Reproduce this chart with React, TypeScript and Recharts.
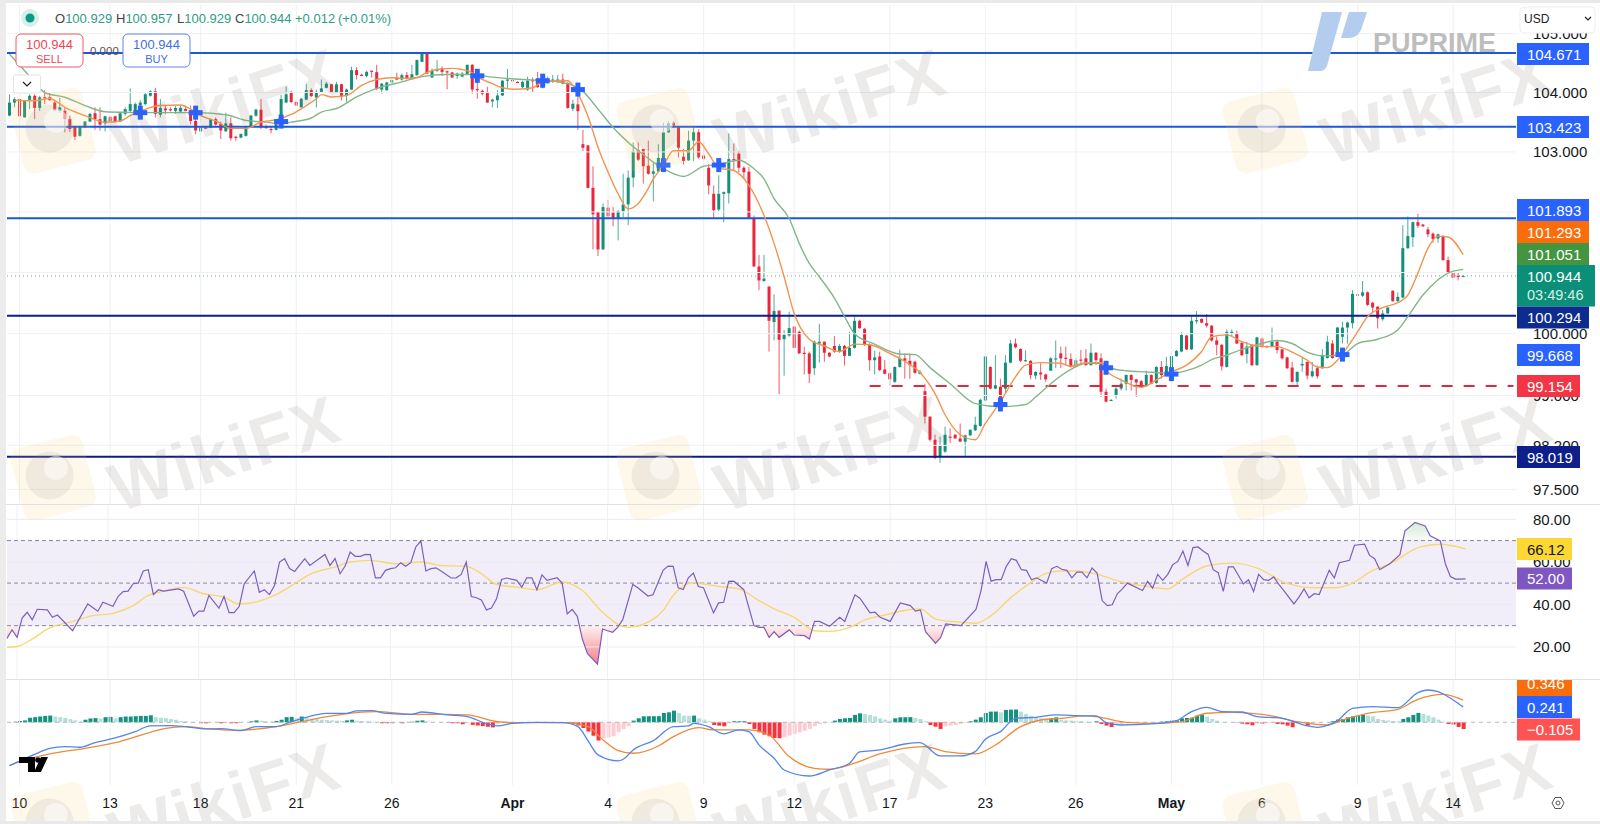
import { Area, Bar, Cell, ComposedChart, Line, ReferenceArea, ReferenceLine, XAxis, YAxis } from 'recharts';

const FONT = '"Liberation Sans", Arial, sans-serif';

// [open, high, low, close] per 4h candle
const candlesMarch = [
  [103.61,103.97,103.6,103.83],[103.83,103.92,103.75,103.89],[103.89,103.89,103.58,103.6],[103.58,103.87,103.58,103.86],[103.86,103.97,103.72,103.945],
  [103.945,103.97,103.55,103.74],[103.74,103.945,103.69,103.92],[103.92,104.04,103.805,103.905],[103.92,104,103.86,103.87],[103.83,103.86,103.69,103.7],
  [103.69,103.91,103.66,103.75],[103.69,103.75,103.33,103.55],[103.55,103.61,103.33,103.385],[103.42,103.44,103.2,103.255],[103.27,103.44,103.255,103.42],
  [103.41,103.52,103.4,103.51],[103.51,103.65,103.5,103.64],[103.65,103.75,103.37,103.55],[103.55,103.75,103.36,103.46],[103.48,103.61,103.345,103.6],
  [103.59,103.6,103.51,103.52],[103.6,103.61,103.5,103.51],[103.51,103.66,103.5,103.65],[103.64,103.75,103.61,103.72],[103.69,104.07,103.66,103.805],
  [103.69,103.83,103.64,103.805],[103.78,103.87,103.75,103.83],[103.805,104,103.78,103.97],[103.945,104.04,103.93,104.02],[104.02,104.08,103.58,103.64],
  [103.625,103.89,103.58,103.74],[103.73,103.78,103.64,103.7],[103.72,103.75,103.68,103.7],[103.69,103.77,103.64,103.74],[103.68,103.77,103.65,103.74],
  [103.72,103.76,103.68,103.69],[103.69,103.78,103.46,103.52],[103.52,103.72,103.3,103.36],[103.345,103.42,103.34,103.41],[103.41,103.42,103.39,103.395],
  [103.41,103.565,103.4,103.55],[103.55,103.58,103.44,103.46],[103.47,103.51,103.215,103.36],[103.345,103.66,103.34,103.48],[103.48,103.58,103.19,103.23],
  [103.255,103.27,103.19,103.24],[103.24,103.31,103.23,103.3],[103.27,103.44,103.255,103.42],[103.42,103.625,103.41,103.61],[103.61,103.73,103.59,103.71],
  [103.71,103.89,103.385,103.41],[103.42,103.46,103.385,103.4],[103.385,103.42,103.31,103.37],[103.37,103.55,103.36,103.52],[103.5,103.96,103.4,103.89],
  [103.83,104.1,103.82,103.97],[104.01,104.03,103.82,103.84],[103.84,103.86,103.77,103.78],[103.75,103.91,103.745,103.895],[103.88,104.15,103.87,104.04],
  [104.04,104.07,103.925,103.94],[103.915,104.05,103.75,104.01],[104.01,104.22,104,104.07],[104.08,104.18,104.07,104.15],[104.14,104.15,104,104.01],
  [104.01,104.18,104,104.14],[104.14,104.15,103.87,103.925],[103.95,104.07,103.84,104.05],[104.05,104.44,104.04,104.38],[104.38,104.43,104.22,104.295],
  [104.3,104.32,104.29,104.295],[104.28,104.37,104.255,104.35],[104.37,104.37,104.255,104.35],[104.345,104.47,104.04,104.06],[104.05,104.16,103.98,104.15],
  [104.04,104.18,104.03,104.17],[104.17,104.22,104.15,104.21],[104.25,104.335,104.21,104.22],[104.22,104.32,104.2,104.295],[104.295,104.35,104.22,104.24],
  [104.24,104.47,104.22,104.31],[104.295,104.56,104.285,104.55],[104.52,104.68,104.515,104.665],[104.655,104.665,104.32,104.32],[104.255,104.41,104.25,104.37],
  [104.37,104.55,104.35,104.39],[104.41,104.44,104.28,104.35],[104.36,104.37,104.055,104.34],[104.34,104.35,104.25,104.255],[104.28,104.34,104.23,104.32],
  [104.27,104.35,104.255,104.32],[104.31,104.47,104.295,104.47],[104.47,104.48,103.98,104.05],[104.06,104.24,103.895,104.04],[104.03,104.05,103.95,103.98],
  [104.01,104.095,103.83,103.83],[103.85,103.895,103.75,103.88],[103.87,104.04,103.74,103.95],[103.95,104.21,103.94,104.2],[104.2,104.4,104.08,104.22],
];
const candlesApril = [
  [104.21,104.27,104.15,104.2],[104.18,104.19,104.165,104.17],[104.09,104.2,104.07,104.18],[104.05,104.27,104.03,104.2],[104.21,104.255,104.01,104.2],
  [104.22,104.35,104.08,104.09],[104.09,104.32,104.07,104.28],[104.165,104.27,104.15,104.22],[104.2,104.295,104.16,104.22],[104.2,104.295,104.16,104.22],
  [104.22,104.32,104.14,104.15],[104.16,104.18,103.725,103.74],[103.725,103.88,103.685,103.81],[103.8,104.04,103.37,103.685],[103.13,103.37,103.01,103.07],
  [103.11,103.11,102.39,102.4],[102.4,102.76,101.38,101.96],[102,102,101.27,101.38],[101.38,102.14,101.37,102.08],[102.07,102.2,101.91,101.93],
  [101.99,102.08,101.76,101.9],[101.9,102.03,101.53,102.01],[102.01,102.635,101.915,102.125],[102.125,102.69,101.78,102.57],[102.57,103.16,102.41,103.006],
  [103.03,103.16,102.85,102.87],[103.05,103.05,102.47,102.76],[102.77,103.19,102.62,102.635],[102.635,102.83,102.175,102.675],[102.675,103.13,102.66,102.9],
  [102.885,103.49,102.83,103.33],[103.33,103.52,103.32,103.48],[103.49,103.52,103.41,103.44],[103.42,103.42,102.91,103.07],[102.92,103.05,102.79,102.85],
  [102.86,103.355,102.85,103.19],[103.19,103.42,102.85,103.33],[103.33,103.38,102.885,102.91],[102.94,103.16,102.86,102.885],[102.735,102.8,102.29,102.44],
  [102.3,102.44,101.9,102.03],[102.04,102.61,102.015,102.3],[102.3,102.34,101.83,102.33],[102.31,103.31,102.14,102.88],[102.88,103.14,102.69,102.865],
  [102.97,103.01,102.66,102.735],[102.735,102.76,102.55,102.66],[102.67,102.75,101.89,101.89],[101.89,101.94,101.09,101.1],[101.1,101.29,100.71,100.87],
  [100.86,101.29,100.85,100.9],[100.77,100.77,99.71,100.21],[100.19,100.64,99.89,100.37],[100.375,100.375,99.02,99.9],[99.91,100.06,99.32,99.98],
  [99.97,100.36,99.95,100.09],[100.115,100.125,99.76,99.77],[100.03,100.05,99.67,99.68],[99.69,99.79,99.34,99.67],[99.68,99.71,99.2,99.35],
  [99.44,99.89,99.33,99.87],[99.84,100.16,99.53,99.87],[99.87,99.87,99.545,99.69],[99.69,99.7,99.62,99.63],[99.8,99.96,99.69,99.71],
  [99.71,99.83,99.69,99.8],[99.8,99.82,99.48,99.64],[99.64,100.03,99.635,99.77],[99.77,100.28,99.76,100.21],[100.21,100.23,100.08,100.09],
  [100.08,100.09,99.8,99.82],[99.83,99.84,99.4,99.57],[99.57,99.72,99.34,99.615],[99.63,99.71,99.39,99.41],[99.42,99.57,99.34,99.35],
  [99.36,99.38,99.16,99.26],[99.22,99.47,99.2,99.46],[99.46,99.74,99.45,99.6],[99.6,99.68,99.27,99.56],[99.56,99.68,99.27,99.49],
  [99.545,99.56,99.35,99.365],[99.35,99.41,99.34,99.38],[99.07,99.19,98.55,98.66],[98.66,98.66,98.26,98.29],[98.29,98.37,97.98,98],
  [98.02,98.34,97.92,98.19],[98.1,98.5,98.08,98.37],[98.34,98.47,98.24,98.33],[98.37,98.38,98.31,98.31],[98.31,98.55,98.25,98.26],
  [98.26,98.37,98.02,98.36],[98.36,98.45,98.35,98.45],[98.44,98.66,98.43,98.53],[98.51,98.95,98.5,98.93],[98.92,99.64,98.9,99.63],
  [99.46,99.47,99.1,99.11],[99.11,99.65,99.1,99.165],[99.14,99.27,98.85,98.9],[99.11,99.65,99.03,99.53],[99.53,99.9,99.52,99.84],
  [99.84,99.92,99.76,99.78],[99.75,99.76,99.54,99.56],[99.55,99.73,99.55,99.57],[99.56,99.57,99.26,99.33],[99.32,99.39,99.26,99.38],
];
const candlesMay = [
  [99.37,99.52,99.25,99.34],[99.34,99.35,99.22,99.26],[99.4,99.62,99.395,99.6],[99.585,99.89,99.44,99.6],[99.68,99.79,99.44,99.6],
  [99.61,99.79,99.49,99.59],[99.59,99.68,99.45,99.46],[99.46,99.6,99.45,99.57],[99.58,99.735,99.49,99.57],[99.6,99.75,99.48,99.49],
  [99.49,99.84,99.48,99.69],[99.69,99.7,99.49,99.57],[99.6,99.68,98.975,99.06],[99.06,99.11,98.89,98.9],[98.92,98.94,98.91,98.93],
  [99,99.165,98.95,99.11],[99.11,99.27,99.08,99.19],[99.19,99.34,99.08,99.33],[99.33,99.34,99.08,99.25],[99.26,99.27,98.975,99.21],
  [99.23,99.25,99.15,99.165],[99.15,99.4,99.14,99.33],[99.33,99.34,99.18,99.19],[99.2,99.47,99.19,99.46],[99.46,99.555,99.27,99.33],
  [99.33,99.625,99.31,99.475],[99.46,99.71,99.355,99.635],[99.635,99.735,99.625,99.72],[99.71,100.02,99.7,99.98],[99.97,99.98,99.735,99.745],
  [99.745,100.305,99.735,100.21],[100.21,100.37,100.16,100.22],[100.24,100.25,100.17,100.18],[100.17,100.32,100.1,100.13],[100.13,100.14,99.87,99.89],
  [99.89,99.95,99.65,99.82],[99.82,99.83,99.4,99.47],[99.46,100.07,99.45,100.03],[100.015,100.07,99.96,100.03],[100,100.05,99.83,99.84],
  [99.85,99.87,99.64,99.65],[99.67,99.87,99.52,99.79],[99.82,99.83,99.47,99.49],[99.49,99.95,99.48,99.94],[99.92,99.94,99.77,99.79],
  [99.8,99.81,99.77,99.78],[99.8,100.1,99.8,99.87],[99.87,99.9,99.68,99.735],[99.745,99.76,99.58,99.6],[99.615,99.625,99.425,99.44],
  [99.45,99.545,99.21,99.22],[99.22,99.39,99.165,99.38],[99.485,99.62,99.385,99.51],[99.54,99.55,99.26,99.32],[99.31,99.54,99.29,99.39],
  [99.44,99.485,99.27,99.31],[99.44,99.75,99.43,99.65],[99.605,99.965,99.595,99.87],[99.84,99.895,99.595,99.605],[99.66,100.11,99.65,100.1],
  [99.95,100.195,99.84,100.1],[100.1,100.195,99.84,100.18],[100.17,100.71,100.085,100.65],[100.64,100.77,100.62,100.63],[100.62,100.86,100.6,100.675],
  [100.675,100.69,100.45,100.47],[100.505,100.52,100.33,100.425],[100.44,100.45,100.085,100.25],[100.235,100.385,100.21,100.33],[100.33,100.435,100.32,100.425],
  [100.7,100.71,100.52,100.53],[100.53,100.675,100.52,100.6],[100.59,101.78,100.58,101.4],[101.4,101.925,101.39,101.6],[101.58,101.84,101.42,101.83],
  [101.83,101.97,101.735,101.77],[101.79,101.8,101.76,101.76],[101.71,101.75,101.58,101.63],[101.64,101.66,101.49,101.55],[101.56,101.64,101.49,101.63],
  [101.6,101.615,101.19,101.205],[101.205,101.26,100.99,101],[101,101.01,100.91,100.915],[100.945,101.01,100.87,100.93],[100.929,100.957,100.929,100.944],
];

// moving averages, as [candle, value] knots
const fastMa = [[1,103.87],[5,103.86],[8,103.9],[11,103.75],[15,103.61],[19,103.5],[22,103.52],[24,103.61],[27,103.72],[30,103.78],[34,103.79],[36,103.72],[38,103.61],[41,103.52],[44,103.395],[47,103.395],[50,103.5],[53,103.54],[56,103.63],[58,103.725],[61,103.895],[62,103.965],[64,103.925],[67,103.95],[70,104.12],[73,104.22],[76,104.25],[78,104.24],[81,104.255],[83,104.34],[85,104.39],[88,104.41],[90,104.39],[92,104.335],[93,104.27],[96,104.15],[98,104.08],[101,104.055],[104,104.08],[106,104.18],[111,104.2],[112,104.12],[113,103.98],[115,103.6],[117,103.08],[119,102.66],[121,102.3],[123,102.05],[125,102.14],[127,102.39],[128,102.55],[130,102.77],[132,103.02],[135,103.02],[137,103.17],[139,102.97],[141,102.73],[144,102.69],[147,102.44],[150,101.94],[152,101.48],[154,100.93],[156,100.33],[159,99.91],[162,99.8],[165,99.71],[168,99.83],[171,99.82],[175,99.68],[178,99.55],[181,99.37],[184,99.03],[186,98.69],[189,98.37],[192,98.29],[194,98.55],[197,98.9],[200,99.3],[202,99.49],[205,99.53],[209,99.52],[211,99.47],[214,99.53],[217,99.53],[218,99.41],[221,99.25],[225,99.13],[228,99.25],[231,99.38],[234,99.49],[237,99.71],[239,99.95],[242,99.98],[245,99.87],[249,99.79],[252,99.79],[255,99.7],[258,99.57],[260,99.46],[262,99.45],[264,99.57],[266,99.785],[268,100.03],[270,100.28],[273,100.425],[276,100.505],[278,100.63],[280,100.99],[282,101.4],[284,101.6],[286,101.585],[289,101.293]];
const slowMa = [[0,104.65],[3,104.37],[5,104.17],[7,104],[11,103.92],[15,103.78],[19,103.675],[24,103.665],[30,103.66],[37,103.66],[43,103.625],[47,103.53],[51,103.5],[54,103.47],[56,103.5],[60,103.57],[62,103.67],[65,103.73],[69,103.925],[73,104.07],[78,104.18],[82,104.27],[87,104.305],[92,104.305],[95,104.27],[102,104.22],[107,104.2],[111,104.15],[114,104.02],[117,103.72],[120,103.41],[123,103.16],[125,103.02],[128,102.83],[130,102.72],[134,102.59],[138,102.76],[141,102.79],[145,102.86],[148,102.72],[150,102.55],[152,102.22],[155,101.89],[157,101.48],[159,101.15],[161,100.93],[164,100.58],[166,100.28],[168,100],[172,99.83],[177,99.67],[180,99.66],[183,99.45],[187,99.19],[192,98.87],[197,98.82],[202,98.855],[204,98.975],[207,99.19],[211,99.42],[214,99.52],[217,99.52],[219,99.44],[222,99.4],[226,99.38],[228,99.37],[231,99.355],[234,99.4],[237,99.49],[239,99.58],[242,99.65],[245,99.745],[248,99.82],[252,99.89],[255,99.84],[258,99.7],[261,99.64],[265,99.66],[268,99.84],[272,99.91],[276,100.06],[278,100.28],[281,100.63],[284,100.88],[286,100.99],[289,101.051]];
const crossMarks = [[26,103.66],[37,103.66],[54,103.51],[93,104.283],[106,104.2],[113,104.05],[130,102.78],[141,102.78],[197,98.855],[218,99.447],[231,99.345],[265,99.66]];

const rsiValues = [[0,24],[1,28],[2,24.5],[3,33.6],[4,36.3],[5,32.8],[6,37.7],[8,37.4],[9,33.9],[10,35],[13,27.6],[16,40.2],[18,36.8],[19,41],[21,39.1],[22,43.7],[23,46],[24,46.2],[25,49.7],[26,50],[27,55.7],[28,56.3],[29,44.6],[30,46.9],[31,46.2],[34,47.3],[35,46.2],[37,34.4],[38,36.8],[39,36.8],[40,44.2],[42,38.2],[43,43.7],[44,36.1],[45,36.1],[46,39],[47,49.7],[49,55.7],[50,45.7],[51,46.9],[52,44.6],[53,48.9],[54,59.9],[55,61.5],[56,56.8],[57,55.5],[59,61.5],[60,58.3],[63,63.5],[64,58.3],[65,61.5],[66,54.4],[67,58],[68,64.6],[69,62.6],[70,62.6],[71,63.5],[72,63.4],[73,52.5],[74,52.5],[75,56],[76,56.8],[77,57.2],[78,59.6],[79,57.9],[80,59.6],[81,67],[82,69.8],[83,55.7],[84,56.8],[85,57.2],[86,55.7],[88,52.4],[89,52.5],[90,54.1],[91,59.9],[92,43.7],[93,43.1],[94,42.1],[95,37.4],[96,38.3],[97,42.6],[98,51.7],[99,52.4],[101,51.3],[102,48.1],[103,52.5],[104,52.5],[105,46.9],[106,53.9],[107,51.3],[109,52.5],[110,50],[111,35.5],[112,37.6],[113,34.4],[114,23.7],[115,16.9],[117,11.9],[118,28.4],[119,27.6],[120,26.9],[121,29.2],[122,32.8],[124,49.4],[125,47.8],[127,43.9],[128,44.5],[130,56],[131,58],[132,57.9],[133,47.8],[134,47],[135,52.5],[136,54.7],[137,48.4],[138,47.8],[140,36],[141,40.7],[142,41],[143,50.8],[144,50.9],[146,46.9],[148,30],[149,29.2],[150,29.2],[151,24.5],[152,27.2],[153,24.5],[155,28],[156,25.6],[158,25.3],[159,23.7],[160,32],[161,32],[163,29.7],[165,33.9],[166,32],[168,44.5],[169,42.9],[171,36],[172,36.3],[173,33.9],[175,32],[177,40.7],[179,39.4],[180,36.8],[181,37.4],[182,27.2],[184,21.7],[185,24.5],[186,30.8],[189,30],[192,37.6],[193,46.5],[194,60.2],[195,50.9],[196,51.6],[197,51.6],[198,57.9],[199,61.5],[200,60.7],[201,56.3],[202,56],[203,51.6],[204,52.5],[206,50],[207,56.8],[208,57.9],[209,56.5],[210,56],[211,52.5],[212,55.2],[213,55.2],[214,52.5],[215,57.1],[216,54.7],[217,41.8],[218,39.4],[219,39.8],[220,45],[221,47.3],[222,50],[225,46.5],[226,50.8],[227,47.6],[228,54.1],[229,51.3],[230,54.1],[231,58.7],[232,60.2],[233,65.1],[234,58.3],[235,66.7],[236,67],[237,65.1],[238,63.5],[239,56.3],[240,54.9],[241,46.1],[242,57.6],[243,57.6],[245,49.6],[246,51.6],[247,46.1],[248,54.1],[249,51.6],[250,51.3],[251,52.9],[252,49.4],[253,46.5],[255,40.2],[256,43.4],[257,47.3],[258,43.1],[259,45],[260,44.6],[262,56],[263,52.4],[264,59.6],[266,60.7],[267,67.8],[269,68.3],[270,63],[271,61.5],[272,56.3],[274,59.1],[276,63.4],[277,74.6],[279,78.5],[281,76.9],[282,72.2],[284,69.8],[285,59.1],[286,53.1],[287,51.9],[288,51.9],[289,52]];
const rsiMa = [[0,19.8],[2,20.2],[5,23.7],[8,28.4],[13,32],[17,34.7],[21,35.8],[25,39.4],[28,44.2],[31,46.2],[35,48],[39,45],[43,43.4],[46,40.2],[50,41.5],[53,44.2],[57,49.7],[60,54.1],[65,57.6],[68,59.9],[72,60.7],[77,59.1],[82,59.9],[86,58.3],[91,57.9],[94,54.4],[97,49.4],[101,48.1],[105,46.9],[110,50.5],[114,46.5],[118,36.3],[123,29.2],[127,31.6],[130,37.1],[132,44.2],[136,50.2],[141,48.4],[145,47.3],[149,41.8],[152,37.9],[156,33.9],[160,27.6],[163,27.3],[167,29.2],[170,32.7],[174,35],[179,37.6],[181,37.9],[184,33.1],[189,31.6],[192,31.1],[195,34.7],[199,43.4],[203,50.5],[206,54.7],[209,55.7],[212,55.7],[216,54.1],[221,50.5],[226,48.4],[230,47.3],[233,52],[238,58.3],[243,59.4],[248,56.8],[253,50.5],[259,47.8],[263,47.8],[267,50.5],[270,55.2],[274,59.1],[280,67],[284,68.3],[289,66.12]];

const macdValues = [[0,-0.677],[5,-0.5],[8,-0.406],[11,-0.38],[14,-0.39],[17,-0.318],[21,-0.245],[25,-0.146],[28,-0.057],[32,-0.052],[35,-0.068],[39,-0.104],[42,-0.099],[46,-0.13],[49,-0.068],[53,-0.068],[56,0.01],[59,0.078],[63,0.14],[67,0.14],[69,0.177],[72,0.182],[75,0.14],[80,0.125],[82,0.161],[87,0.115],[91,0.089],[95,-0.026],[97,-0.057],[100,-0.016],[105,0],[110,-0.005],[113,-0.068],[115,-0.286],[117,-0.51],[121,-0.604],[122,-0.578],[124,-0.432],[128,-0.286],[132,-0.068],[135,-0.057],[136,-0.016],[139,-0.068],[142,-0.182],[145,-0.12],[147,-0.146],[149,-0.354],[152,-0.563],[154,-0.745],[159,-0.839],[163,-0.745],[167,-0.64],[169,-0.464],[173,-0.432],[178,-0.339],[181,-0.318],[185,-0.526],[189,-0.526],[192,-0.458],[194,-0.266],[197,-0.146],[200,0.0625],[204,0.078],[208,0.115],[214,0.1],[216,0.1],[218,-0.005],[221,-0.042],[227,-0.026],[232,0.026],[235,0.167],[238,0.234],[241,0.167],[245,0.161],[248,0.089],[253,0.0625],[258,-0.057],[260,-0.078],[264,0.026],[267,0.219],[271,0.245],[276,0.229],[280,0.464],[282,0.505],[284,0.479],[287,0.349],[289,0.241]];
const macdSignal = [[0,-0.677],[2,-0.615],[8,-0.495],[15,-0.406],[21,-0.318],[28,-0.156],[31,-0.094],[35,-0.068],[39,-0.099],[45,-0.125],[53,-0.068],[58,0.01],[64,0.099],[69,0.151],[73,0.167],[80,0.125],[87,0.125],[91,0.115],[97,0.01],[100,-0.005],[110,-0.005],[115,-0.068],[118,-0.276],[121,-0.443],[124,-0.484],[129,-0.37],[132,-0.224],[137,-0.083],[140,-0.12],[144,-0.12],[147,-0.12],[151,-0.198],[155,-0.536],[160,-0.719],[163,-0.734],[168,-0.64],[173,-0.495],[182,-0.38],[186,-0.458],[192,-0.495],[196,-0.354],[201,-0.068],[205,0.036],[209,0.0625],[214,0.1],[216,0.089],[222,0],[228,-0.016],[233,0.01],[238,0.141],[243,0.156],[251,0.1],[256,0.01],[262,-0.042],[265,0.036],[270,0.141],[276,0.203],[280,0.359],[285,0.4375],[289,0.346]];
const macdHist = [
  0,.01,.02,.03,.07,.08,.09,.1,.105,.09,.08,.07,.05,.03,.01,.04,.06,.065,.06,.08,
  .085,.06,.08,.09,.09,.095,.1,.1,.11,.08,.07,.065,.05,.04,.02,.015,.005,0,-.015,-.015,
  -.005,0,-.015,-.005,-.015,-.015,-.005,0,.015,.03,.025,.015,.01,.02,.04,.08,.085,.07,.09,.065,
  .06,.05,.04,.035,.03,.025,.02,.03,.04,.025,.02,.015,.01,0,-.015,-.015,-.015,-.005,-.015,-.005,
  .01,.025,.03,.015,.005,0,0,-.005,-.015,-.015,-.03,-.015,-.04,-.05,-.06,-.07,-.08,-.025,-.01,-.005,
  0,.003,.003,.003,.003,.003,.003,.003,.003,.003,0,-.005,-.03,-.05,-.09,-.145,-.21,-.285,-.245,-.235,
  -.22,-.155,-.105,-.0625,.026,.0625,.094,.095,.095,.096,.146,.156,.182,.146,.104,.103,.105,.0625,.042,.016,
  -.042,-.052,-.0625,-.016,.016,.016,.017,-.026,-.104,-.156,-.193,-.219,-.245,-.25,-.234,-.208,-.182,-.156,-.13,-.104,
  -.0625,-.026,-.016,-.005,.026,.052,.0625,.068,.115,.14,.13,.115,.094,.0625,.042,.026,.0625,.078,.079,.08,
  .068,.052,.016,-.042,-.068,-.104,-.0625,-.052,-.042,-.026,-.01,.016,.042,.078,.146,.167,.168,.156,.193,.198,
  .199,.167,.13,.104,.078,.0625,.042,.0625,.078,.042,.031,.026,.021,.016,.01,.008,.016,-.026,-.052,-.073,
  -.042,-.031,-.016,-.01,-.005,0,0,0,.005,.01,.016,.026,.03,.0625,.068,.073,.104,.115,.089,.052,
  .026,.005,0,0,-.005,-.021,-.031,-.047,-.021,-.021,-.016,-.01,-.026,-.031,-.052,-.078,-.016,-.01,-.052,-.016,
  -.005,0,0,.016,.042,.052,.078,.094,.104,.115,.104,.094,.052,.036,.026,.021,.016,.052,.078,.115,
  .146,.13,.104,.078,.042,.01,-.026,-.036,-.073,-.105,
];

const timeTicks = [2, 20, 38, 57, 76, 100, 119, 138, 156, 175, 194, 212, 231, 249, 268, 287];
const timeLabels = ['10', '13', '18', '21', '26', 'Apr', '4', '9', '12', '17', '23', '26', 'May', '6', '9', '14'];
const priceTicks = [105, 104, 103, 102, 101, 100, 99, 98.2, 97.5];
const rsiTicks = [80, 60, 40, 20];
const blueLevels = [104.671, 103.423, 101.893];
const navyLevels = [100.294, 98.019];

const candles = [...candlesMarch, ...candlesApril, ...candlesMay];
const ROW_COUNT = 300;

const rows: any[] = Array.from({ length: ROW_COUNT }, (_, i) => {
  const c = candles[i];
  const hist = macdHist[i];
  return c
    ? { i, open: c[0], high: c[1], low: c[2], close: c[3], range: [c[2], c[1]], hist }
    : { i };
});
const put = (key: string, pairs: number[][]) => pairs.forEach(([i, v]) => { rows[i][key] = v; });
put('fast', fastMa);
put('slow', slowMa);
put('cross', crossMarks);
put('rsi', rsiValues);
put('rsiMa', rsiMa);
put('macd', macdValues);
put('signal', macdSignal);

const histColor = (i: number) => {
  const v = macdHist[i] ?? 0;
  const prev = macdHist[i - 1] ?? 0;
  if (v >= 0) return v >= prev ? '#12927f' : '#b5dfd9';
  return v <= prev ? '#f5343f' : '#fdcbd2';
};

// body is placed inside the high-low rect on the same log scale as the axis
const CandleShape = (props: any) => {
  const { x, y, width, height, payload } = props;
  if (!payload || payload.open == null || !isFinite(y)) return null;
  const { open, high, low, close } = payload;
  const span = Math.log(high) - Math.log(low) || 1;
  const at = (p: number) => y + (height * (Math.log(high) - Math.log(p))) / span;
  const color = close >= open ? '#14907a' : '#e9263b';
  const top = at(Math.max(open, close));
  const bottom = at(Math.min(open, close));
  const cx = x + width / 2;
  return (
    <g>
      <line x1={cx} x2={cx} y1={y} y2={y + height} stroke={color} strokeWidth={1} opacity={0.75} />
      <rect x={x} y={top} width={width} height={Math.max(bottom - top, 1.2)} fill={color} />
    </g>
  );
};

const CrossDot = (props: any) => {
  const { cx, cy, index } = props;
  if (cy == null || !isFinite(cy)) return <g key={index} />;
  return (
    <g key={index} fill="#2962ff">
      <rect x={cx - 7} y={cy - 2.5} width={14} height={5} />
      <rect x={cx - 2.5} y={cy - 7} width={5} height={14} />
    </g>
  );
};

const TimeTick = (props: any) => {
  const label = timeLabels[timeTicks.indexOf(props.payload.value)];
  const bold = label === 'Apr' || label === 'May';
  return (
    <text x={props.x} y={128} textAnchor="middle" fontSize={14} fontFamily={FONT} fontWeight={bold ? 700 : 400} fill="#131722">
      {label}
    </text>
  );
};

const gridLines = (color = '#eff0f3') =>
  timeTicks.map((t) => <ReferenceLine key={`v${t}`} x={t} stroke={color} strokeWidth={1} />);

const PriceChart = () => (
  <ComposedChart width={1600} height={505} data={rows} margin={{ top: 5, right: 0, bottom: 1, left: 7 }} barCategoryGap={1}>
    <XAxis dataKey="i" hide />
    <YAxis
      orientation="right"
      width={84}
      scale="log"
      domain={[97.268, 105.491]}
      ticks={priceTicks}
      interval={0}
      allowDataOverflow
      axisLine={false}
      tickLine={false}
      tickMargin={11}
      tickFormatter={(v: number) => v.toFixed(3)}
      tick={{ fontSize: 15, fontFamily: FONT, fill: '#131722' }}
    />
    {gridLines()}
    {priceTicks.map((p) => (
      <ReferenceLine key={p} y={p} stroke="#f0f1f4" strokeWidth={1} />
    ))}
    <ReferenceLine y={100.944} stroke="#6f9f96" strokeWidth={1} strokeDasharray="1 3" />
    {blueLevels.map((p) => (
      <ReferenceLine key={p} y={p} stroke="#1c57dc" strokeWidth={2} />
    ))}
    {navyLevels.map((p) => (
      <ReferenceLine key={p} y={p} stroke="#0c1c8c" strokeWidth={2} />
    ))}
    <ReferenceLine segment={[{ x: 171, y: 99.154 }, { x: 299, y: 99.154 }]} stroke="#e1293c" strokeWidth={2} strokeDasharray="11 11" />
    <Bar dataKey="range" barSize={3} shape={CandleShape} isAnimationActive={false} />
    <Line dataKey="slow" type="monotone" stroke="#84b68a" strokeWidth={1.4} dot={false} connectNulls isAnimationActive={false} />
    <Line dataKey="fast" type="monotone" stroke="#f29450" strokeWidth={1.4} dot={false} connectNulls isAnimationActive={false} />
    <Line dataKey="cross" stroke="none" dot={CrossDot} isAnimationActive={false} />
  </ComposedChart>
);

const RsiChart = () => (
  <ComposedChart width={1600} height={175} data={rows} margin={{ top: 0, right: 0, bottom: 1, left: 7 }}>
    <defs>
      <linearGradient id="rsiFill" gradientUnits="userSpaceOnUse" x1="0" x2="0" y1="14" y2="160">
        <stop offset="0" stopColor="#4caf50" stopOpacity={0.28} />
        <stop offset="0.148" stopColor="#4caf50" stopOpacity={0.04} />
        <stop offset="0.148" stopColor="#ffffff" stopOpacity={0} />
        <stop offset="0.726" stopColor="#ffffff" stopOpacity={0} />
        <stop offset="0.726" stopColor="#f23645" stopOpacity={0.06} />
        <stop offset="1" stopColor="#f23645" stopOpacity={0.65} />
      </linearGradient>
    </defs>
    <XAxis dataKey="i" hide />
    <YAxis
      orientation="right"
      width={84}
      domain={[4.92, 86.72]}
      ticks={rsiTicks}
      interval={0}
      allowDataOverflow
      axisLine={false}
      tickLine={false}
      tickMargin={11}
      tickFormatter={(v: number) => v.toFixed(2)}
      tick={{ fontSize: 15, fontFamily: FONT, fill: '#131722' }}
    />
    <ReferenceArea y1={30} y2={70} fill="#7e57c2" fillOpacity={0.1} stroke="none" />
    {gridLines()}
    {[80, 60, 40, 20].map((v) => (
      <ReferenceLine key={v} y={v} stroke="#eceaf2" strokeWidth={1} />
    ))}
    {[70, 50, 30].map((v) => (
      <ReferenceLine key={v} y={v} stroke="#8a8a96" strokeWidth={1} strokeDasharray="4 3" />
    ))}
    <Area dataKey="rsi" type="linear" baseValue={30} stroke="none" fill="url(#rsiFill)" fillOpacity={1} dot={false} connectNulls isAnimationActive={false} />
    <Line dataKey="rsiMa" type="monotone" stroke="#f6d872" strokeWidth={1.4} dot={false} connectNulls isAnimationActive={false} />
    <Line dataKey="rsi" type="linear" stroke="#7c5fbc" strokeWidth={1.2} dot={false} connectNulls isAnimationActive={false} />
  </ComposedChart>
);

const MacdChart = () => (
  <ComposedChart width={1600} height={144} data={rows} margin={{ top: 0, right: 84, bottom: 0, left: 7 }}>
    <XAxis
      dataKey="i"
      height={39}
      ticks={timeTicks}
      interval={0}
      axisLine={false}
      tickLine={false}
      tick={TimeTick}
    />
    <YAxis hide domain={[-0.98, 0.661]} allowDataOverflow />
    {gridLines()}
    <ReferenceLine y={0} stroke="#b5b5bb" strokeWidth={1} strokeDasharray="4 4" />
    <Bar dataKey="hist" barSize={4} isAnimationActive={false}>
      {rows.map((r) => (
        <Cell key={r.i} fill={histColor(r.i)} />
      ))}
    </Bar>
    <Line dataKey="signal" type="monotone" stroke="#ee8a3a" strokeWidth={1.3} dot={false} connectNulls isAnimationActive={false} />
    <Line dataKey="macd" type="monotone" stroke="#5585ea" strokeWidth={1.3} dot={false} connectNulls isAnimationActive={false} />
  </ComposedChart>
);

const Watermark = ({ dx, dy }: { dx: number; dy: number }) => (
  <g transform={`translate(${dx} ${dy})`}>
    <g transform="rotate(-14 52 130)">
      <rect x={16} y={94} width={74} height={74} rx={10} fill="#f6c667" fillOpacity={0.13} />
      <circle cx={50} cy={128} r={24} fill="#8c8379" fillOpacity={0.12} />
      <circle cx={58} cy={122} r={12} fill="#ffffff" fillOpacity={0.5} />
    </g>
    <text
      x={224}
      y={130}
      textAnchor="middle"
      fontFamily={FONT}
      fontWeight={700}
      fontSize={68}
      letterSpacing={2}
      fill="#6e645c"
      fillOpacity={0.13}
      transform="rotate(-18 224 105)"
    >
      WikiFX
    </text>
  </g>
);

const Badge = ({ y, w = 72, h = 22, fill, text, color = '#fff', clip = false }: any) => (
  <g>
    <rect x={1517} y={y} width={w} height={h} fill={fill} />
    <text x={1527} y={clip ? y + 9 : y + h / 2 + 5.5} fontSize={15} fontFamily={FONT} fill={color}>
      {text}
    </text>
  </g>
);

const Overlay = () => (
  <svg width={1600} height={824} style={{ position: 'absolute', left: 0, top: 0, pointerEvents: 'none' }}>
    {[0, 606, 1212].map((dx) => [0, 347, 694].map((dy) => <Watermark key={`${dx}-${dy}`} dx={dx} dy={dy} />))}

    <path d="M1322 12 L1342 12 L1327 66 Q1325 71 1320 71 L1308 71 Z" fill="#b4cdee" />
    <path d="M1349 12 L1367 12 L1361 30 Q1357 38 1349 38 L1341 38 Z" fill="#b4cdee" />
    <text x={1373} y={52} fontSize={27} fontWeight={700} fontFamily={FONT} fill="#bdbdbd">PUPRIME</text>

    {/* frame and pane dividers */}
    <rect x={0} y={0} width={1600} height={3} fill="#e9e9e9" />
    <rect x={0} y={0} width={6} height={824} fill="#ececec" />
    <rect x={0} y={821} width={1600} height={3} fill="#e9e9e9" />
    <rect x={6} y={504} width={1594} height={1} fill="#e0e0e3" />
    <rect x={6} y={679} width={1594} height={1} fill="#e0e0e3" />

    {/* legend */}
    <circle cx={30} cy={18} r={9} fill="#d5efea" />
    <circle cx={30} cy={18} r={4.5} fill="#0d9a84" />
    <text y={23} fontSize={13} fontFamily={FONT} fill="#2f9c88">
      <tspan x={55} fill="#444">O</tspan><tspan>100.929</tspan>
      <tspan x={116} fill="#444">H</tspan><tspan>100.957</tspan>
      <tspan x={177} fill="#444">L</tspan><tspan>100.929</tspan>
      <tspan x={235} fill="#444">C</tspan><tspan>100.944</tspan>
      <tspan x={295}>+0.012</tspan>
      <tspan x={338}>(+0.01%)</tspan>
    </text>

    {/* trade buttons */}
    <rect x={16} y={34} width={67} height={33} rx={5} fill="#fff" stroke="#ef5a68" />
    <text x={49.5} y={49} textAnchor="middle" fontSize={13} fontFamily={FONT} fill="#ef4656">100.944</text>
    <text x={49.5} y={63} textAnchor="middle" fontSize={11} fontFamily={FONT} fill="#ef4656">SELL</text>
    <text x={90} y={55} fontSize={11.5} fontFamily={FONT} fill="#555">0.000</text>
    <rect x={123} y={34} width={67} height={33} rx={5} fill="#fff" stroke="#5c85ea" />
    <text x={156.5} y={49} textAnchor="middle" fontSize={13} fontFamily={FONT} fill="#3f6fe8">100.944</text>
    <text x={156.5} y={63} textAnchor="middle" fontSize={11} fontFamily={FONT} fill="#3f6fe8">BUY</text>
    <rect x={13.5} y={75} width={27} height={18} rx={2} fill="#fff" stroke="#e3e3e3" />
    <path d="M23 82 L27 86 L31 82" fill="none" stroke="#222" strokeWidth={1.2} />

    {/* currency select */}
    <rect x={1520} y={7} width={75} height={26} rx={4} fill="#fff" stroke="#eeeeee" />
    <text x={1524} y={23} fontSize={12} fontFamily={FONT} fill="#222">USD</text>
    <path d="M1585 17 L1588 20 L1591 17" fill="none" stroke="#222" strokeWidth={1.2} />

    {/* price scale badges */}
    <Badge y={43} fill="#2962ff" text="104.671" />
    <Badge y={116} fill="#2962ff" text="103.423" />
    <Badge y={199} fill="#2962ff" text="101.893" />
    <Badge y={221} fill="#fb6d0a" text="101.293" />
    <Badge y={243} fill="#43963f" text="101.051" />
    <g>
      <rect x={1517} y={265} width={78} height={41.5} fill="#0b8f78" />
      <text x={1527} y={281.5} fontSize={15} fontFamily={FONT} fill="#fff">100.944</text>
      <text x={1527} y={300} fontSize={14.5} fontFamily={FONT} fill="#d5efe9">03:49:46</text>
    </g>
    <Badge y={306.5} fill="#0e2c8f" text="100.294" />
    <Badge y={344} w={63} fill="#2962ff" text="99.668" />
    <Badge y={375} w={63} fill="#f23645" text="99.154" />
    <Badge y={446} w={63} fill="#0e1f8c" text="98.019" />

    {/* indicator badges */}
    <Badge y={538} w={55} fill="#fdd835" color="#131722" text="66.12" />
    <Badge y={567.5} w={55} fill="#7e57c2" text="52.00" />
    <Badge y={680} w={55} h={16} clip fill="#fb6d0a" text="0.346" />
    <Badge y={696} w={55} fill="#2962ff" text="0.241" />
    <Badge y={718.5} w={63} fill="#ff5252" text="−0.105" />

    {/* chart vendor mark and settings */}
    <path d="M19 757 H35 V772 H28 V763 H19 Z M48 757 L41 772 H34 L41 757 Z" fill="#000" />
    <circle cx={38} cy={760} r={2.8} fill="#000" />
    <path d="M1552 803 L1555 797.5 H1561 L1564 803 L1561 808.5 H1555 Z" fill="none" stroke="#555" />
    <circle cx={1558} cy={803} r={2} fill="none" stroke="#555" />
  </svg>
);

export default function App() {
  return (
    <div style={{ position: 'absolute', left: 0, top: 0, width: 1600, height: 824, background: '#fff', overflow: 'hidden' }}>
      <div style={{ position: 'absolute', left: 0, top: 0 }}><PriceChart /></div>
      <div style={{ position: 'absolute', left: 0, top: 505 }}><RsiChart /></div>
      <div style={{ position: 'absolute', left: 0, top: 680 }}><MacdChart /></div>
      <Overlay />
    </div>
  );
}
